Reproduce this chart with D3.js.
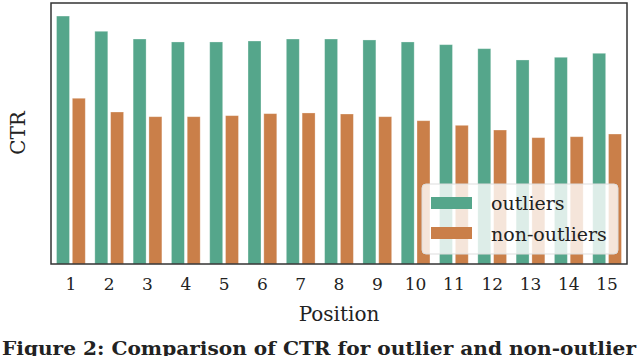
<!DOCTYPE html>
<html>
<head>
<meta charset="utf-8">
<script src="https://cdn.jsdelivr.net/npm/d3@7"></script>
<style>
  body { margin: 0; background: #fff; }
  text { font-family: "DejaVu Serif", serif; fill: #222; }
</style>
</head>
<body>
<svg width="640" height="356"></svg>
<script>
var positions = ["1","2","3","4","5","6","7","8","9","10","11","12","13","14","15"];
var outliers = [0.285, 0.2675, 0.2586, 0.2552, 0.2552, 0.2563, 0.2586, 0.2586, 0.2575, 0.2552, 0.2521, 0.2475, 0.2345, 0.2376, 0.2422];
var nonOutliers = [0.1905, 0.1747, 0.1693, 0.1693, 0.1705, 0.1728, 0.1736, 0.1724, 0.1693, 0.1647, 0.1594, 0.1540, 0.1452, 0.1463, 0.1494];
var seriesNames = ["outliers", "non-outliers"];
var colors = { "outliers": "#55a68b", "non-outliers": "#ca7f49" };

var svg = d3.select("svg"),
    margin = { left: 51, top: 3, right: 13, bottom: 92 },
    width = 640 - margin.left - margin.right,
    height = 356 - margin.top - margin.bottom;

var g = svg.append("g").attr("transform", "translate(" + margin.left + "," + margin.top + ")");

var x0 = d3.scaleBand()
    .domain(positions)
    .range([0, width])
    .paddingInner(0.2)
    .paddingOuter(0.12);

var x1 = d3.scaleBand()
    .domain(seriesNames)
    .range([0, x0.bandwidth()])
    .paddingInner(0.18)
    .paddingOuter(0.06);

var y = d3.scaleLinear()
    .domain([0, 0.3])
    .range([height, 0]);

var rows = positions.map(function(p, i) {
    return { pos: p, values: [
        { key: "outliers", value: outliers[i] },
        { key: "non-outliers", value: nonOutliers[i] }
    ] };
});

var group = g.selectAll(".group")
    .data(rows)
    .enter().append("g")
      .attr("class", "group")
      .attr("transform", function(d) { return "translate(" + x0(d.pos) + ",0)"; });

group.selectAll("rect")
    .data(function(d) { return d.values; })
    .enter().append("rect")
      .attr("x", function(d) { return x1(d.key); })
      .attr("width", x1.bandwidth())
      .attr("y", function(d) { return y(d.value); })
      .attr("height", function(d) { return height - y(d.value); })
      .attr("fill", function(d) { return colors[d.key]; })
      .attr("stroke", "#fff")
      .attr("stroke-opacity", 0.35)
      .attr("stroke-width", 0.8);

// x axis labels, no tick lines
var xAxis = g.append("g")
    .attr("transform", "translate(0," + height + ")")
    .call(d3.axisBottom(x0).tickSize(0).tickPadding(14));
xAxis.select(".domain").remove();
xAxis.selectAll("text")
    .style("font-family", "DejaVu Serif, serif")
    .style("font-size", "17px")
    .attr("fill", "#222");

// frame
g.append("rect")
    .attr("x", 0).attr("y", 0)
    .attr("width", width).attr("height", height)
    .attr("fill", "none")
    .attr("stroke", "#333")
    .attr("stroke-width", 1.5);

// axis titles
svg.append("text")
    .attr("x", margin.left + width / 2)
    .attr("y", 321)
    .attr("text-anchor", "middle")
    .style("font-size", "20px")
    .text("Position");

svg.append("text")
    .attr("transform", "translate(25,133) rotate(-90)")
    .attr("text-anchor", "middle")
    .style("font-size", "20px")
    .text("CTR");

// legend
var legend = svg.append("g").attr("transform", "translate(422,184)");
legend.append("rect")
    .attr("width", 196).attr("height", 70)
    .attr("rx", 4)
    .attr("fill", "#fff")
    .attr("fill-opacity", 0.8)
    .attr("stroke", "#ddd")
    .attr("stroke-width", 1);

seriesNames.forEach(function(s, i) {
    legend.append("rect")
        .attr("x", 9).attr("y", 13 + i * 30)
        .attr("width", 41).attr("height", 12)
        .attr("fill", colors[s]);
    legend.append("text")
        .attr("x", 69).attr("y", 26 + i * 31)
        .style("font-size", "19px")
        .text(s);
});

// caption
svg.append("text")
    .attr("x", 2)
    .attr("y", 355)
    .attr("textLength", 634)
    .attr("lengthAdjust", "spacingAndGlyphs")
    .style("font-size", "18.5px")
    .style("font-weight", "bold")
    .text("Figure 2: Comparison of CTR for outlier and non-outlier");
</script>
</body>
</html>
